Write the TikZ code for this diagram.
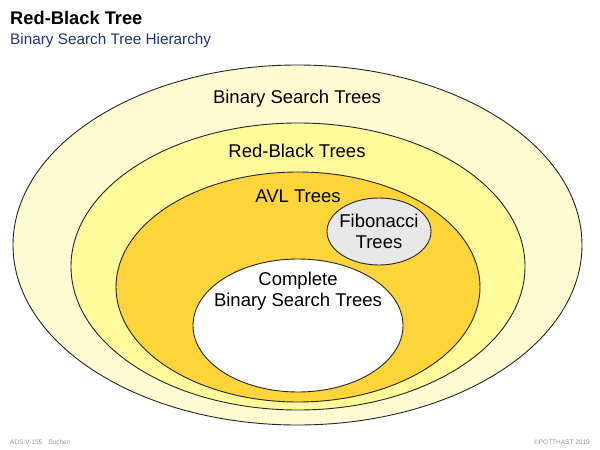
\documentclass[tikz,border=0pt]{standalone}
\usepackage{fontspec}
\setmainfont{Liberation Sans}
\usetikzlibrary{shapes.geometric}
\definecolor{outerfill}{RGB}{255,251,210}
\definecolor{rbfill}{RGB}{255,251,155}
\definecolor{avlfill}{RGB}{253,212,58}
\definecolor{fibfill}{RGB}{232,232,232}
\definecolor{subblue}{RGB}{38,48,128}
\definecolor{footgrey}{RGB}{150,150,150}
\begin{document}
\begin{tikzpicture}[x=1pt,y=-1pt,
  set/.style={ellipse, draw=black!85, line width=0.9pt, inner sep=0pt},
  lbl/.style={font=\fontsize{18.5}{22}\selectfont, align=center, inner sep=0pt},
  foot/.style={font=\fontsize{6.5}{8}\selectfont, text=footgrey, inner sep=0pt}]
\useasboundingbox (0,0) rectangle (600,450);
\fill[white] (0,0) rectangle (600,450);
% sets
\node[set, fill=outerfill, minimum width=569pt, minimum height=360pt] (bst) at (297.5,245) {};
\node[set, fill=rbfill, minimum width=454pt, minimum height=287pt] (rb) at (298,266.5) {};
\node[set, fill=avlfill, minimum width=364pt, minimum height=230pt] (avl) at (298,287) {};
\node[set, fill=white, minimum width=210pt, minimum height=133pt] (cbst) at (298,325.5) {};
\node[set, fill=fibfill, minimum width=104pt, minimum height=67pt] (fib) at (379,231.5) {};
% labels
\node[lbl] (tbst) at (297,99) {Binary Search Trees};
\node[lbl] (trb) at (297,151) {Red-Black Trees};
\node[lbl] (tavl) at (298,196) {AVL Trees};
\node[lbl] (tfib) at (379,231.5) {Fibonacci\\[-1pt]Trees};
\node[lbl] (tcbst) at (298,291) {Complete\\[-1pt]Binary Search Trees};
% title
\node[anchor=west, inner sep=0pt, font=\fontsize{18.3}{22}\selectfont\bfseries] (title) at (10,18) {Red-Black Tree};
\node[anchor=west, inner sep=0pt, font=\fontsize{15.3}{18}\selectfont, text=subblue] (sub) at (10,41) {Binary Search Tree Hierarchy};
% footer
\node[foot, anchor=west] (fl) at (10,442) {ADS:V-155\hspace{6pt}Suchen};
\node[foot, anchor=east] (fr) at (590,442) {©POTTHAST 2019};
\end{tikzpicture}
\end{document}
